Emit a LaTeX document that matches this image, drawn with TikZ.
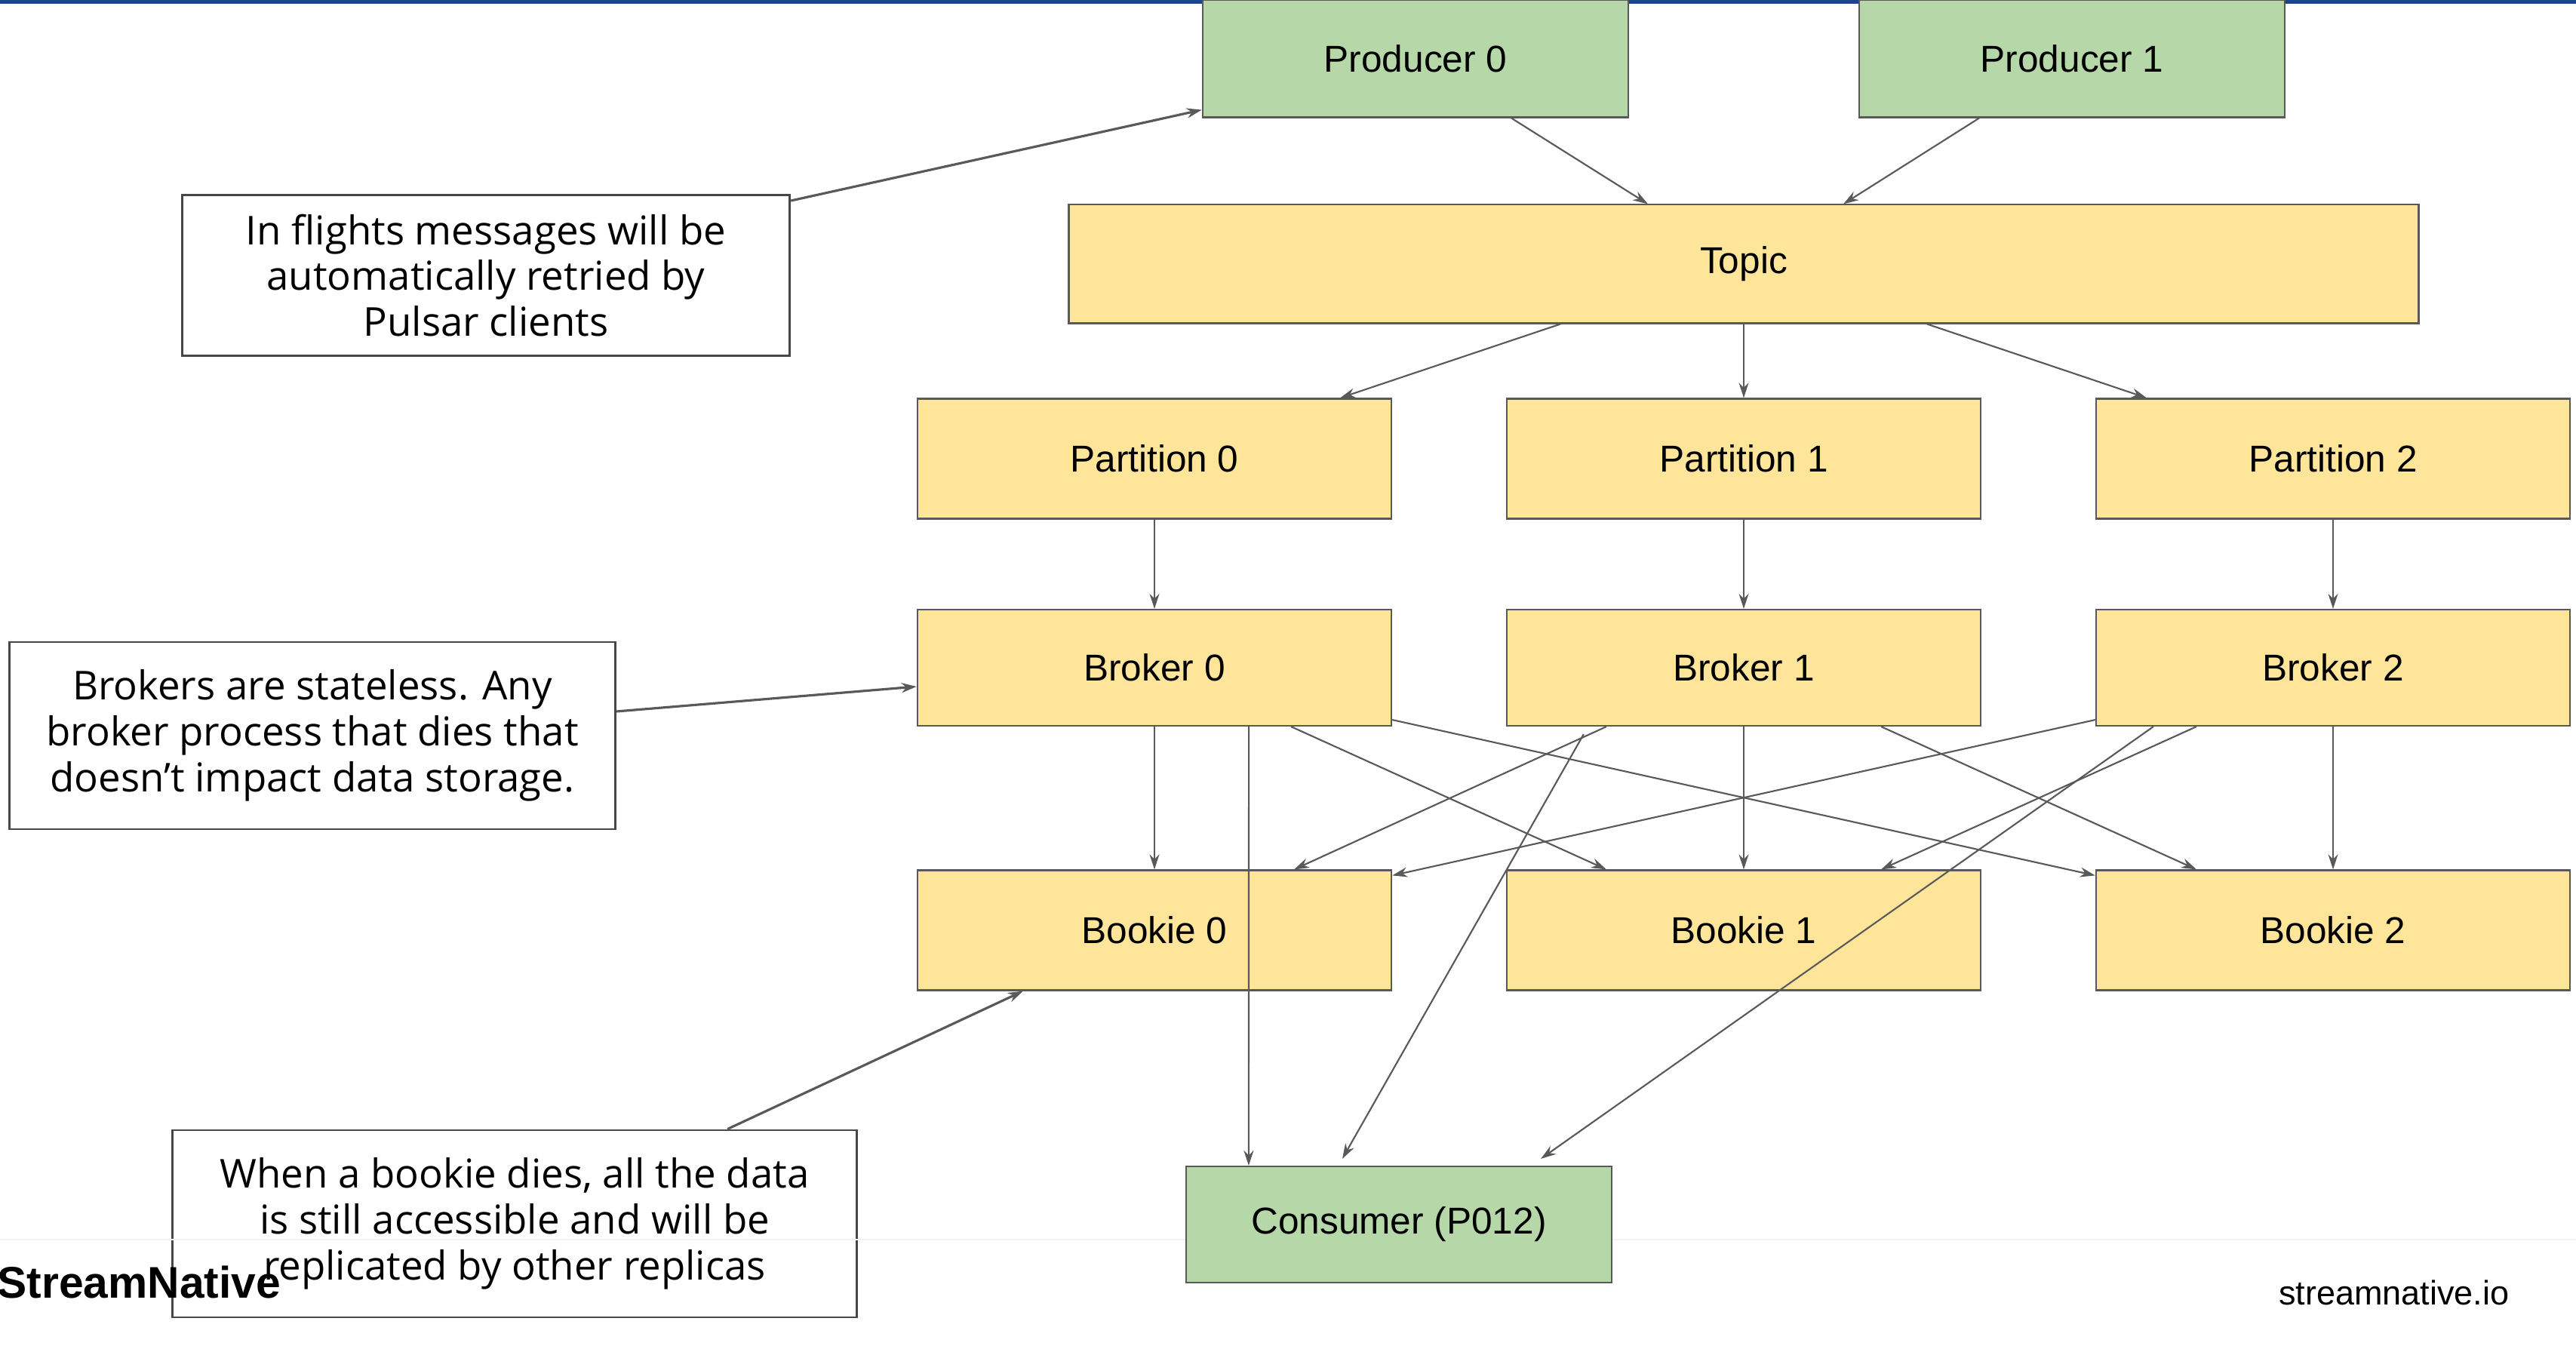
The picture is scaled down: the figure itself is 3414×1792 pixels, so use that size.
\documentclass[tikz,border=0pt]{standalone}
\usepackage{fontspec}
\setmainfont{Liberation Sans}
\newfontfamily\notefont{Open Sans}
\usetikzlibrary{arrows.meta}
\definecolor{boxgreen}{HTML}{B6D7A8}
\definecolor{boxyellow}{HTML}{FFE599}
\definecolor{edgegray}{HTML}{595959}
\definecolor{barblue}{HTML}{1C4587}
\begin{document}
\begin{tikzpicture}[x=0.01cm, y=-0.01cm,
  box/.style={draw=edgegray, line width=0.6pt, inner sep=0pt, font=\fontsize{14.1}{16}\selectfont},
  greenbox/.style={box, fill=boxgreen, minimum width=5.64cm, minimum height=1.55cm},
  yellowbox/.style={box, fill=boxyellow, minimum width=6.28cm, minimum height=1.57cm},
  notebox/.style={draw=edgegray!80!black, line width=0.8pt, fill=white, align=center, inner sep=0pt,
    font=\notefont\fontsize{15}{17.3}\selectfont},
  link/.style={draw=edgegray, line width=0.6pt, -{Stealth[length=0.2cm, width=0.13cm]}},
  notelink/.style={link, line width=0.9pt}]
  \useasboundingbox (0,0) rectangle (3414,1792);
  \fill[white] (0,0) rectangle (3414,1792);
  % 顶部蓝条
  \fill[barblue] (0,0) rectangle (3414,5);
  % 生产者
  \node[greenbox] (prod0) at (1876,78) {Producer 0};
  \node[greenbox] (prod1) at (2746,78) {Producer 1};
  % Topic
  \node[yellowbox, minimum width=17.88cm] (topic) at (2311,350) {Topic};
  % 分区, broker, bookie
  \foreach \i/\x in {0/1530,1/2311,2/3092} {
    \node[yellowbox, minimum height=1.59cm] (part\i) at (\x,608) {Partition \i};
    \node[yellowbox, minimum height=1.54cm] (bro\i) at (\x,885) {Broker \i};
    \node[yellowbox, minimum height=1.59cm] (boo\i) at (\x,1233) {Bookie \i};
    \draw[link] (part\i.south) -- (bro\i.north);
    \draw[link] (bro\i.south) -- (boo\i.north);}
  % 说明
  \node[notebox, minimum width=8.05cm, minimum height=2.13cm] (flight) at (644,365)
    {In flights messages will be\\automatically retried by\\Pulsar clients};
  \node[notebox, minimum width=8.03cm, minimum height=2.48cm] (stateless) at (414,975)
    {Brokers are stateless. Any\\broker process that dies that\\doesn’t impact data storage.};
  \node[notebox, minimum width=9.07cm, minimum height=2.48cm] (bookiedies) at (682,1622)
    {When a bookie dies, all the data\\is still accessible and will be\\replicated by other replicas};
  \draw[gray!10, line width=0.8pt] (0,1643) -- (3414,1643);
  % 消费者
  \node[greenbox, minimum height=1.54cm] (cons) at (1854,1623) {Consumer (P012)};
  % 连线
  \draw[link] ([xshift=1.27cm]prod0.south) -- ([xshift=-1.27cm]topic.north);
  \draw[link] ([xshift=-1.23cm]prod1.south) -- ([xshift=1.32cm]topic.north);
  \draw[link] ([xshift=-2.43cm]topic.south) -- ([xshift=2.46cm]part0.north);
  \draw[link] (topic.south) -- (part1.north);
  \draw[link] ([xshift=2.43cm]topic.south) -- ([xshift=-2.47cm]part2.north);
  \draw[link] ([xshift=1.81cm]bro0.south) -- ([xshift=-1.82cm]boo1.north);
  \draw[link] ([yshift=0.09cm]bro0.south east) -- ([yshift=-0.08cm]boo2.north west);
  \draw[link] ([xshift=-1.82cm]bro1.south) -- ([xshift=1.85cm]boo0.north);
  \draw[link] ([xshift=1.82cm]bro1.south) -- ([xshift=-1.81cm]boo2.north);
  \draw[link] ([yshift=0.09cm]bro2.south west) -- ([yshift=-0.08cm]boo0.north east);
  \draw[link] ([xshift=-1.81cm]bro2.south) -- ([xshift=1.82cm]boo1.north);
  \draw[link] ([xshift=1.25cm]bro0.south) -- ([xshift=-1.99cm]cons.north);
  \draw[link] ([xshift=-2.12cm,yshift=-0.1cm]bro1.south) -- ([xshift=-0.75cm,yshift=0.09cm]cons.north);
  \draw[link] ([xshift=-2.38cm]bro2.south) -- ([xshift=1.88cm,yshift=0.09cm]cons.north);
  \draw[notelink] ([yshift=-0.09cm]flight.north east) -- ([yshift=0.11cm]prod0.south west);
  \draw[notelink] ([yshift=0.32cm]stateless.east) -- ([yshift=-0.25cm]bro0.west);
  \draw[notelink] ([xshift=2.82cm]bookiedies.north) -- ([xshift=-1.74cm]boo0.south);
  % 页脚
  \node[anchor=west, inner sep=0pt, font=\bfseries\fontsize{16.7}{16.7}\selectfont] (brand) at (-4,1700) {StreamNative};
  \node[anchor=east, inner sep=0pt, font=\fontsize{12.8}{12.8}\selectfont] (site) at (3326,1713) {streamnative.io};
\end{tikzpicture}
\end{document}
